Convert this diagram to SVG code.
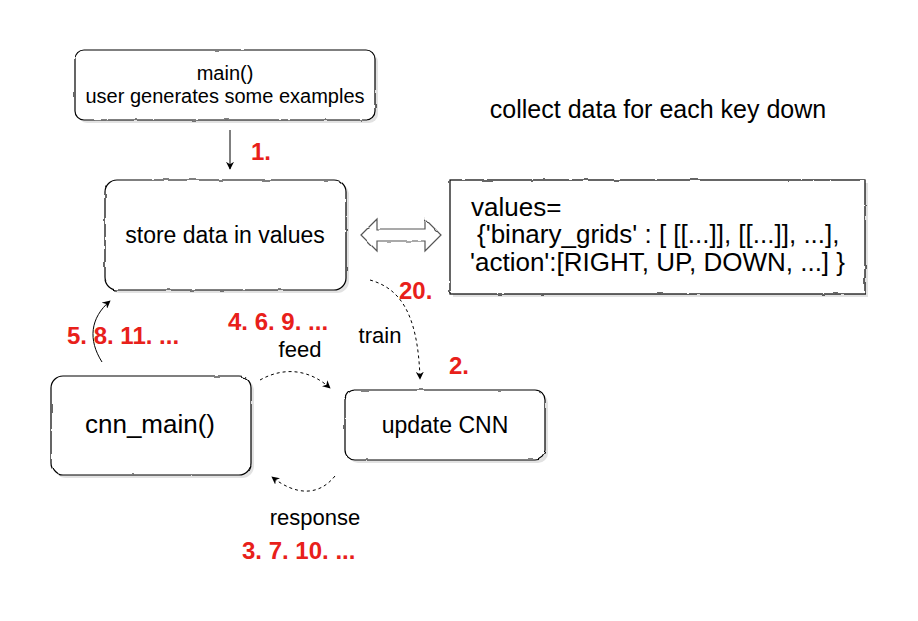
<svg xmlns="http://www.w3.org/2000/svg" width="918" height="621" viewBox="0 0 918 621">
<defs>
<filter id="rough" x="-5%" y="-5%" width="110%" height="110%">
<feTurbulence type="fractalNoise" baseFrequency="0.08" numOctaves="2" seed="3" result="n"/>
<feDisplacementMap in="SourceGraphic" in2="n" scale="2.2" xChannelSelector="R" yChannelSelector="G"/>
</filter>
<marker id="ah" viewBox="0 0 10 10" refX="9" refY="5" markerWidth="8" markerHeight="8" markerUnits="userSpaceOnUse" orient="auto">
<path d="M0,0 L10,5 L0,10 L3,5 Z" fill="#000"/>
</marker>
<style>
.box{fill:#fff;stroke:#000;stroke-width:1.2}
.sh{fill:#e2e2e2;stroke:none}
.t{font-family:"Liberation Sans",Arial,sans-serif;fill:#000;text-anchor:middle}
.v{font-family:"Liberation Sans",Arial,sans-serif;fill:#000;font-size:26px}
.r{font-family:"Liberation Sans",Arial,sans-serif;fill:#e8201a;font-weight:bold;font-size:24px}
.c{fill:none;stroke:#000;stroke-width:1}
.d{stroke-dasharray:3,3}
</style>
</defs>
<rect width="918" height="621" fill="#fff"/>

<g id="connectors">
<line class="c" x1="230" y1="130" x2="230" y2="169" marker-end="url(#ah)"/>
<path class="c" d="M102,362 C88,340 90,318 110,301" marker-end="url(#ah)"/>
<path class="c d" d="M370,280 C398,288 418,310 420,379" marker-end="url(#ah)"/>
<path class="c d" d="M260,380 C285,366 310,370 330,388" marker-end="url(#ah)"/>
<path class="c d" d="M335,476 C318,497 295,495 272,477" marker-end="url(#ah)"/>
<path d="M361,235 L377,219 L377,229 L425,229 L425,219 L441,235 L425,251 L425,241 L377,241 L377,251 Z" fill="#fff" stroke="#555" stroke-width="1.2" filter="url(#rough)"/>
</g>

<g id="main">
<rect class="sh" x="78" y="53" width="300" height="70" rx="9"/>
<rect class="box" x="75" y="50" width="300" height="70" rx="9" filter="url(#rough)"/>
<text class="t" x="225" y="80" font-size="20">main()</text>
<text class="t" x="225" y="103" font-size="20">user generates some examples</text>
</g>

<g id="store">
<rect class="sh" x="108" y="183" width="241" height="110" rx="12"/>
<rect class="box" x="105" y="180" width="241" height="110" rx="12" filter="url(#rough)"/>
<text class="t" x="225" y="243" font-size="23">store data in values</text>
</g>

<g id="values">
<rect class="sh" x="453" y="183" width="415" height="114"/>
<rect class="box" x="450" y="180" width="415" height="114" filter="url(#rough)"/>
<text class="v" x="471" y="216">values=</text>
<text class="v" x="477" y="243">{'binary_grids' : [ [[...]], [[...]], ...],</text>
<text class="v" x="470" y="271">'action':[RIGHT, UP, DOWN, ...] }</text>
</g>

<g id="cnn_main">
<rect class="sh" x="54" y="379" width="200" height="99" rx="12"/>
<rect class="box" x="51" y="376" width="200" height="99" rx="12" filter="url(#rough)"/>
<text class="t" x="150" y="433" font-size="26">cnn_main()</text>
</g>

<g id="update">
<rect class="sh" x="348" y="393" width="200" height="70" rx="10"/>
<rect class="box" x="345" y="390" width="200" height="70" rx="10" filter="url(#rough)"/>
<text class="t" x="445" y="433" font-size="23">update CNN</text>
</g>

<g id="labels">
<text class="t" x="658" y="118" font-size="25">collect data for each key down</text>
<text class="r" x="251" y="160">1.</text>
<text class="r" x="399" y="299">20.</text>
<text class="t" x="380" y="343" font-size="22">train</text>
<text class="r" x="449" y="374">2.</text>
<text class="r" x="228" y="330">4. 6. 9. ...</text>
<text class="t" x="300" y="357" font-size="22">feed</text>
<text class="r" x="67" y="344">5. 8. 11. ...</text>
<text class="t" x="315" y="525" font-size="22">response</text>
<text class="r" x="242" y="559">3. 7. 10. ...</text>
</g>
</svg>
